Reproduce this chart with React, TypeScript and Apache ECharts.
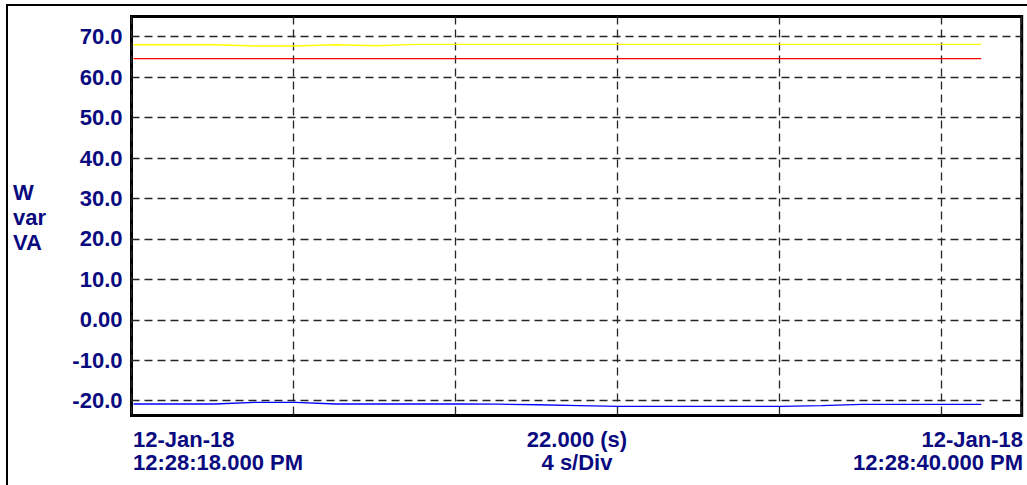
import React, { useEffect, useRef } from "react";
import * as echarts from "echarts";

// seconds after 12:28:18.000 PM
const timeSec = [0.05, 1.05, 2.05, 3.05, 4.05, 5.05, 6.05, 7.05, 8.05, 9.05, 10.05, 11.05, 12.05, 13.05, 14.05, 15.05, 16.05, 17.05, 18.05, 19.05, 20.05, 21.0];
const yellowVA = [68.0, 68.0, 68.0, 67.7, 67.7, 68.0, 67.75, 68.1, 68.1, 68.1, 68.1, 68.1, 68.1, 68.1, 68.1, 68.1, 68.1, 68.1, 68.1, 68.1, 68.1, 68.1];
const redW = [64.56, 64.56, 64.56, 64.56, 64.56, 64.56, 64.56, 64.56, 64.56, 64.56, 64.56, 64.56, 64.56, 64.56, 64.56, 64.56, 64.56, 64.56, 64.56, 64.56, 64.56, 64.56];
const blueVar = [-20.82, -20.82, -20.82, -20.4, -20.4, -20.82, -20.82, -20.82, -20.82, -20.85, -21.0, -21.2, -21.38, -21.38, -21.38, -21.38, -21.38, -21.2, -20.9, -20.9, -20.9, -20.9];

const yMin = -23.66;
const yMax = 75;
const yTicks = [-20, -10, 0, 10, 20, 30, 40, 50, 60, 70];
const xMin = 0;
const xMax = 22;
const xStep = 4;

const unitLabel = "W\nvar\nVA";
const startDate = "12-Jan-18";
const startTime = "12:28:18.000 PM";
const endDate = "12-Jan-18";
const endTime = "12:28:40.000 PM";
const spanLabel = "22.000 (s)";
const divLabel = "4 s/Div";

const navy = "#0a0a80";
const font = "'Liberation Sans', Arial, sans-serif";

function pairs(xs: number[], ys: number[]) {
  return xs.map((x, i) => [x, ys[i]]);
}

export default function App() {
  const ref = useRef<HTMLDivElement>(null);
  useEffect(() => {
    if (!ref.current) return;
    const chart = echarts.init(ref.current, null, { renderer: "svg" });
    const textStyle = { fontFamily: font, fontWeight: "bold", fontSize: 22, fill: navy, lineHeight: 23 };
    const gridLine = { show: true, lineStyle: { color: "#262626", width: 1.3, type: [8, 5] } };
    chart.setOption({
      animation: false,
      backgroundColor: "#ffffff",
      grid: {
        left: 131.5,
        top: 16.5,
        width: 890.2,
        height: 399,
        show: true,
        borderColor: "#000",
        borderWidth: 3,
        backgroundColor: "transparent",
        containLabel: false,
      },
      xAxis: {
        type: "value",
        min: xMin,
        max: xMax,
        interval: xStep,
        axisLine: { show: false },
        axisTick: { show: false },
        axisLabel: { show: false },
        splitLine: gridLine,
      },
      yAxis: {
        type: "value",
        min: yMin,
        max: yMax,
        axisLine: { show: false },
        axisTick: { show: false, customValues: yTicks },
        axisLabel: {
          show: true,
          customValues: yTicks,
          margin: 9,
          color: navy,
          fontFamily: font,
          fontWeight: "bold",
          fontSize: 22,
          formatter: (v: number) => (Math.abs(v) < 1e-9 ? "0.00" : v.toFixed(1)),
        },
        splitLine: gridLine,
      },
      series: [
        { type: "line", data: pairs(timeSec, yellowVA), showSymbol: false, symbol: "none", lineStyle: { color: "#ffff00", width: 1.4 }, z: 3 },
        { type: "line", data: pairs(timeSec, redW), showSymbol: false, symbol: "none", lineStyle: { color: "#ff0000", width: 1.3 }, z: 3 },
        { type: "line", data: pairs(timeSec, blueVar), showSymbol: false, symbol: "none", lineStyle: { color: "#0000ff", width: 1.3 }, z: 3 },
      ],
      graphic: [
        { type: "rect", shape: { x: 7, y: 5, width: 1100, height: 600 }, style: { fill: "none", stroke: "#000", lineWidth: 2 }, z: 0, silent: true },
        { type: "text", left: 13, top: 180, style: { ...textStyle, text: unitLabel, lineHeight: 25, align: "left" } },
        { type: "text", x: 133, y: 428, style: { ...textStyle, text: startDate + "\n" + startTime, align: "left", verticalAlign: "top" } },
        { type: "text", x: 577, y: 428, style: { ...textStyle, text: spanLabel + "\n" + divLabel, align: "center", verticalAlign: "top" } },
        { type: "text", x: 1023, y: 428, style: { ...textStyle, text: endDate + "\n" + endTime, align: "right", verticalAlign: "top" } },
      ],
    });
    return () => chart.dispose();
  }, []);
  return <div ref={ref} style={{ position: "absolute", left: 0, top: 0, width: 1027, height: 485 }} />;
}
